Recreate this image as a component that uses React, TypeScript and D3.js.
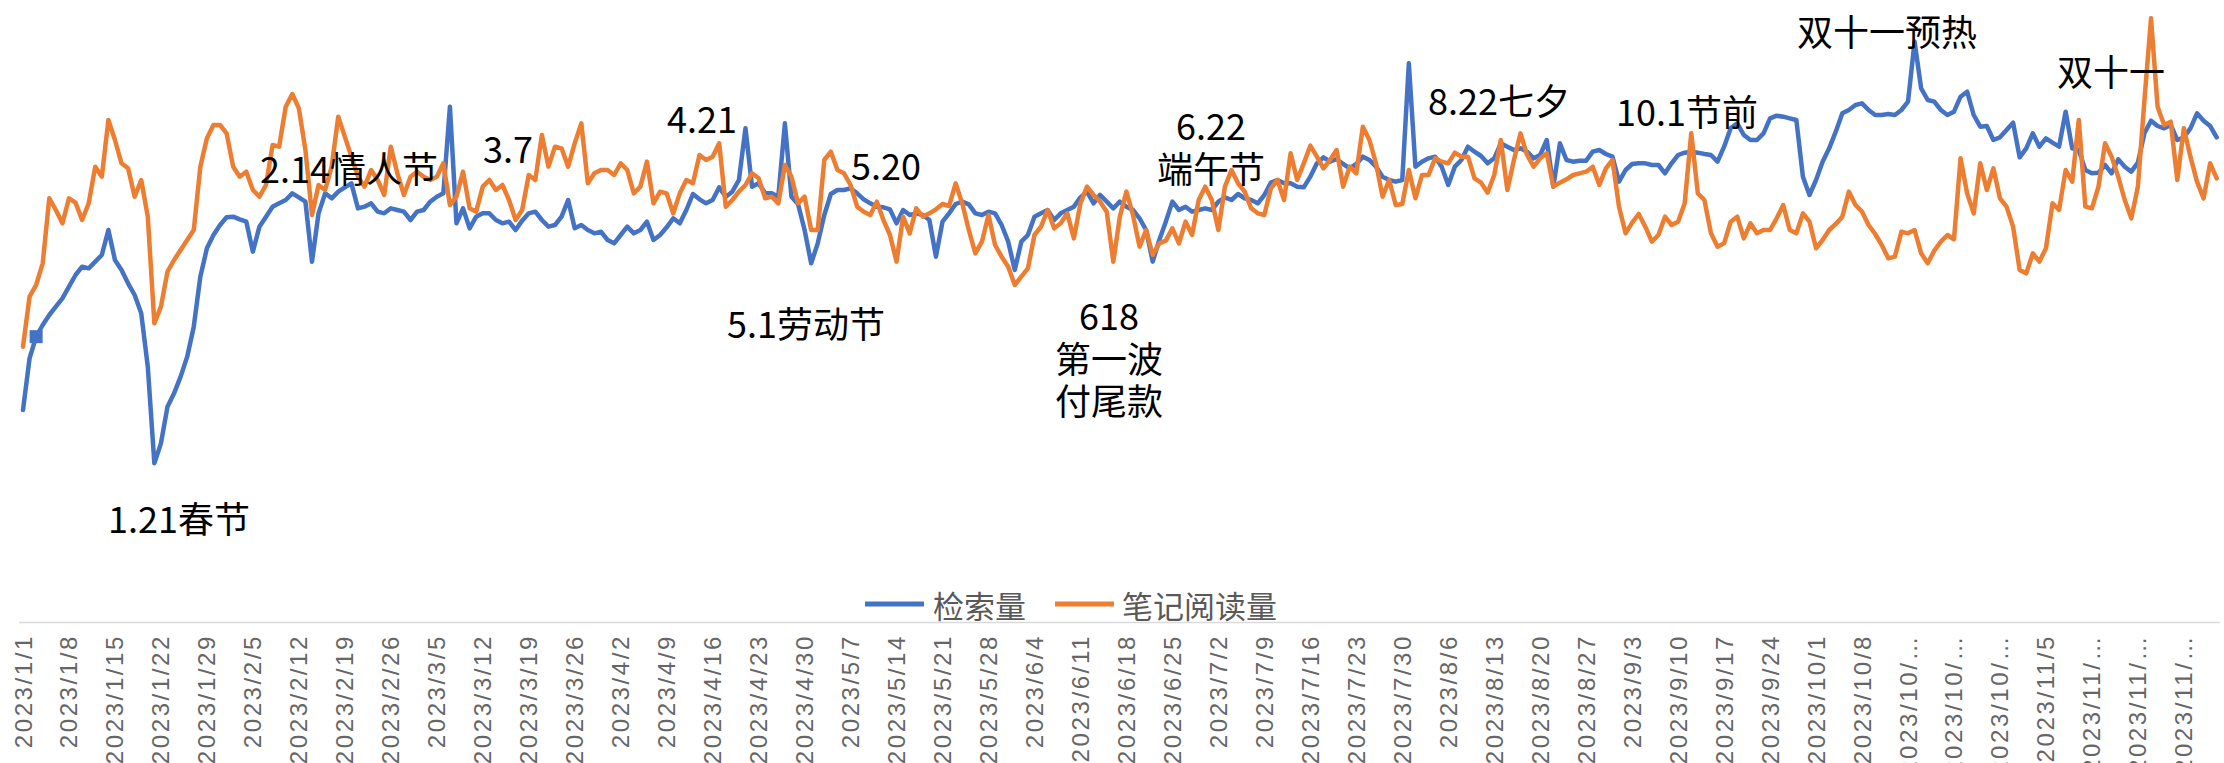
import React, { useEffect, useRef } from "react";
import * as d3 from "d3";

// daily values, 2023/1/1 .. 2023/12/1
const searchVolume = [
  21.0, 36.5, 43.0, 46.5, 49.5, 52.0, 54.5, 58.0, 61.5, 64.0,
  63.5, 65.5, 67.5, 75.0, 66.0, 63.0, 59.0, 55.5, 50.0, 34.0,
  5.0, 11.0, 22.0, 26.0, 31.0, 37.0, 46.0, 61.0, 69.5, 73.5,
  76.5, 78.8, 79.0, 78.2, 77.5, 68.5, 76.0, 79.0, 82.0, 83.0,
  84.0, 86.0, 84.8, 83.5, 65.5, 80.0, 86.0, 84.5, 86.5, 87.8,
  89.0, 81.5, 82.0, 83.0, 80.5, 80.0, 81.5, 81.0, 80.5, 78.0,
  80.5, 81.0, 83.5, 85.0, 86.0, 112.0, 77.0, 81.5, 75.5, 79.0,
  80.0, 80.0, 78.0, 77.0, 77.5, 75.0, 77.8, 80.0, 80.5, 78.0,
  76.0, 76.5, 79.0, 84.0, 75.5, 76.5, 75.0, 74.0, 74.5, 72.0,
  71.0, 73.5, 76.0, 74.0, 75.0, 77.5, 72.0, 73.5, 75.8, 78.5,
  77.0, 81.0, 85.8, 84.2, 83.0, 84.0, 87.8, 85.0, 86.5, 90.0,
  105.5, 88.0, 89.0, 86.0, 86.0, 85.0, 107.0, 85.0, 82.8, 75.0,
  65.0, 71.0, 79.5, 85.8, 87.0, 87.0, 87.5, 86.0, 84.2, 83.0,
  82.0, 81.8, 81.2, 77.0, 81.0, 79.5, 80.0, 79.5, 78.0, 67.0,
  77.5, 80.0, 82.8, 83.5, 82.7, 80.0, 79.5, 80.5, 80.0, 76.5,
  71.5, 63.0, 71.5, 73.5, 79.0, 80.0, 81.0, 78.0, 80.0, 81.0,
  82.0, 84.8, 86.5, 83.0, 85.5, 83.5, 81.5, 83.5, 82.0, 81.0,
  78.5, 75.0, 65.5, 72.0, 77.5, 83.5, 81.0, 82.0, 80.5, 81.0,
  81.5, 81.0, 83.5, 84.8, 84.0, 85.8, 84.5, 84.0, 83.0, 85.5,
  89.2, 90.0, 89.0, 89.0, 88.0, 87.8, 91.0, 95.0, 96.8, 95.5,
  96.3, 94.8, 93.5, 94.8, 97.0, 96.0, 94.0, 91.0, 90.0, 89.5,
  90.0, 125.0, 94.0, 95.5, 96.5, 97.0, 94.0, 88.5, 94.0, 96.0,
  100.0, 98.5, 97.2, 95.0, 96.5, 101.0, 100.0, 99.0, 99.5, 98.5,
  96.5, 97.5, 102.0, 88.0, 101.0, 96.0, 95.5, 95.8, 95.8, 98.5,
  99.0, 97.8, 97.0, 89.5, 93.0, 94.8, 95.0, 95.0, 94.5, 94.5,
  92.0, 95.0, 97.5, 98.2, 98.5, 98.2, 97.8, 97.5, 95.5, 100.0,
  105.5, 107.0, 103.5, 102.0, 102.0, 104.0, 108.5, 109.3, 109.0, 108.5,
  108.0, 91.0, 85.5, 90.0, 95.5, 99.5, 104.5, 110.0, 111.0, 112.5,
  113.0, 111.0, 109.5, 109.5, 109.8, 109.5, 111.0, 113.5, 131.5, 117.5,
  114.0, 113.5, 111.0, 109.5, 110.5, 115.0, 116.5, 109.5, 106.0, 106.2,
  102.0, 102.8, 105.0, 107.2, 96.8, 99.5, 104.0, 100.0, 102.5, 101.2,
  100.0, 110.5, 99.5, 99.0, 93.0, 92.0, 92.2, 94.5, 92.0, 96.2,
  94.0, 92.5, 95.2, 104.0, 107.8, 106.2, 105.5, 106.5, 102.0, 102.8,
  105.5, 110.0, 107.8, 106.2, 102.8,
];

const noteReads = [
  40.0, 55.0, 58.5, 65.0, 84.5, 81.0, 77.0, 84.5, 83.2, 78.0,
  83.0, 94.0, 91.0, 108.0, 102.0, 95.0, 93.5, 85.0, 90.0, 79.0,
  47.0, 52.0, 62.5, 66.0, 69.0, 72.0, 75.0, 94.0, 102.5, 106.5,
  106.5, 104.0, 94.0, 91.0, 92.5, 87.0, 85.0, 88.5, 100.5, 100.0,
  112.0, 115.8, 111.5, 99.0, 79.5, 88.5, 87.0, 94.0, 109.0, 103.0,
  97.0, 91.0, 88.0, 93.0, 90.0, 85.5, 100.0, 92.0, 85.5, 91.0,
  92.5, 91.0, 90.0, 91.0, 95.0, 82.5, 85.0, 92.5, 81.5, 80.5,
  88.0, 90.0, 87.0, 88.5, 84.0, 78.0, 81.0, 91.5, 90.0, 103.5,
  94.0, 100.0, 99.5, 94.0, 101.0, 107.0, 89.0, 92.0, 93.0, 93.0,
  91.5, 95.0, 93.0, 86.0, 88.0, 95.5, 83.0, 86.5, 86.0, 80.0,
  86.0, 90.0, 89.0, 97.5, 96.0, 97.0, 101.0, 82.0, 84.0, 86.5,
  88.5, 92.0, 90.5, 84.5, 85.0, 83.0, 94.5, 91.0, 83.0, 85.0,
  75.0, 75.0, 96.0, 98.5, 93.0, 92.0, 88.5, 82.0, 80.5, 79.5,
  83.5, 78.0, 73.5, 65.5, 79.0, 74.0, 81.5, 79.0, 80.0, 81.2,
  82.8, 82.2, 89.0, 83.0, 75.0, 68.0, 71.5, 79.5, 70.5, 67.0,
  64.0, 58.5, 61.0, 63.5, 73.5, 76.0, 81.0, 75.5, 77.0, 80.0,
  72.5, 83.0, 88.0, 85.5, 83.5, 80.5, 65.5, 79.0, 86.5, 79.5,
  70.0, 75.0, 67.5, 71.0, 71.8, 75.5, 71.0, 77.5, 73.5, 84.0,
  88.0, 84.0, 75.0, 88.0, 93.0, 89.0, 86.5, 81.5, 80.0, 79.5,
  87.5, 90.0, 84.0, 98.0, 90.0, 95.0, 100.3, 97.0, 93.5, 96.0,
  99.0, 88.0, 94.0, 92.0, 106.0, 102.0, 95.0, 85.0, 90.0, 82.5,
  82.8, 93.0, 84.5, 91.5, 91.5, 96.5, 95.5, 95.0, 98.2, 97.0,
  97.0, 90.5, 89.2, 86.2, 91.5, 102.0, 87.0, 96.0, 104.0, 97.5,
  94.0, 96.5, 98.0, 88.0, 89.2, 90.2, 91.5, 92.0, 92.5, 94.0,
  88.5, 93.5, 96.0, 82.0, 74.0, 77.2, 79.8, 76.0, 71.5, 73.5,
  79.0, 76.5, 77.5, 83.0, 104.0, 86.0, 84.0, 74.0, 70.0, 71.0,
  77.5, 79.0, 72.5, 77.0, 74.0, 75.0, 75.0, 78.5, 82.5, 75.0,
  74.0, 80.0, 77.5, 69.5, 72.0, 75.0, 76.8, 79.0, 86.5, 82.5,
  80.5, 76.5, 73.8, 70.5, 66.5, 67.0, 74.5, 74.0, 75.0, 68.0,
  65.0, 68.8, 71.5, 73.5, 72.2, 96.5, 86.0, 80.0, 95.0, 87.0,
  93.5, 84.5, 82.0, 76.0, 63.0, 62.0, 68.0, 65.5, 69.5, 83.0,
  81.0, 93.0, 89.5, 108.0, 82.0, 81.5, 88.0, 101.0, 97.0, 91.0,
  84.0, 78.5, 88.0, 114.0, 138.5, 112.0, 106.5, 107.5, 90.0, 105.5,
  97.0, 89.5, 84.5, 95.0, 90.5,
];

const seriesNames = ["检索量", "笔记阅读量"];
const seriesColors = ["#4472C4", "#ED7D31"];

const annotationTexts = [
  ["1.21春节"],
  ["2.14情人节"],
  ["3.7"],
  ["4.21"],
  ["5.1劳动节"],
  ["5.20"],
  ["618", "第一波", "付尾款"],
  ["6.22", "端午节"],
  ["8.22七夕"],
  ["10.1节前"],
  ["双十一预热"],
  ["双十一"],
];

// where each note sits (x, first baseline, anchor)
const annotationLayout = [
  [108, 533, "start"],
  [260, 183, "start"],
  [483, 163, "start"],
  [667, 133, "start"],
  [727, 338, "start"],
  [851, 180, "start"],
  [1109, 330, "middle"],
  [1211, 140, "middle"],
  [1428, 115, "start"],
  [1616, 126, "start"],
  [1797, 46, "start"],
  [2057, 86, "start"],
];

const width = 2224, height = 763;
const cjk = "'Noto Sans CJK SC', 'Noto Sans', sans-serif";

const App = () => {
  const svgRef = useRef(null);

  useEffect(() => {
    const svg = d3.select(svgRef.current);
    svg.selectAll("*").remove();

    const start = new Date(2023, 0, 1);
    const dates = searchVolume.map((_, i) => d3.timeDay.offset(start, i));
    const fmt = (d) => `${d.getFullYear()}/${d.getMonth() + 1}/${d.getDate()}`;

    const x = d3.scaleLinear().domain([0, dates.length - 1]).range([23, 2216.7]);
    const y = d3.scaleLinear().domain([0, 144]).range([480, 0]);

    // x axis line
    svg.append("line")
      .attr("x1", 19).attr("x2", 2220)
      .attr("y1", 622.5).attr("y2", 622.5)
      .attr("stroke", "#d9d9d9").attr("stroke-width", 1.5);

    // tick labels every 7 days
    const tickIdx = d3.range(0, dates.length, 7);
    svg.append("g")
      .selectAll("text")
      .data(tickIdx)
      .enter()
      .append("text")
      .attr("transform", (i) => `translate(${x(i)},634) rotate(-90)`)
      .attr("text-anchor", "end")
      .attr("dominant-baseline", "central")
      .attr("font-family", "'Liberation Sans', Arial, sans-serif")
      .attr("font-size", 24)
      .attr("letter-spacing", 2.6)
      .attr("fill", "#666")
      .text((i) => {
        const s = fmt(dates[i]);
        return s.length > 9 ? s.slice(0, 8) + "…" : s;
      });

    // lines
    const line = d3.line().x((d, i) => x(i)).y((d) => y(d));
    [searchVolume, noteReads].forEach((vals, k) => {
      svg.append("path")
        .datum(vals)
        .attr("d", line)
        .attr("fill", "none")
        .attr("stroke", seriesColors[k])
        .attr("stroke-width", 4.5)
        .attr("stroke-linejoin", "round")
        .attr("stroke-linecap", "round");
    });

    // selected-point marker on the blue series
    svg.append("rect")
      .attr("x", x(2) - 6.5).attr("y", y(searchVolume[2]) - 6.5)
      .attr("width", 13).attr("height", 13)
      .attr("fill", seriesColors[0]);

    // annotations
    annotationTexts.forEach((lines, k) => {
      const [ax, ay, anchor] = annotationLayout[k];
      lines.forEach((t, j) => {
        svg.append("text")
          .attr("x", ax).attr("y", ay + j * 42.5)
          .attr("text-anchor", anchor)
          .attr("font-family", cjk)
          .attr("font-size", 36)
          .attr("fill", "#000")
          .text(t);
      });
    });

    // legend
    const legendX = [865, 1055];
    const legendText = [933, 1122];
    seriesNames.forEach((name, k) => {
      svg.append("line")
        .attr("x1", legendX[k]).attr("x2", legendX[k] + 59)
        .attr("y1", 604).attr("y2", 604)
        .attr("stroke", seriesColors[k]).attr("stroke-width", 5);
      svg.append("text")
        .attr("x", legendText[k]).attr("y", 618)
        .attr("font-family", cjk)
        .attr("font-size", 31)
        .attr("fill", "#595959")
        .text(name);
    });
  }, []);

  return (
    <svg
      ref={svgRef}
      width={width}
      height={height}
      style={{ position: "absolute", left: 0, top: 0, background: "#fff" }}
    />
  );
};

export default App;
